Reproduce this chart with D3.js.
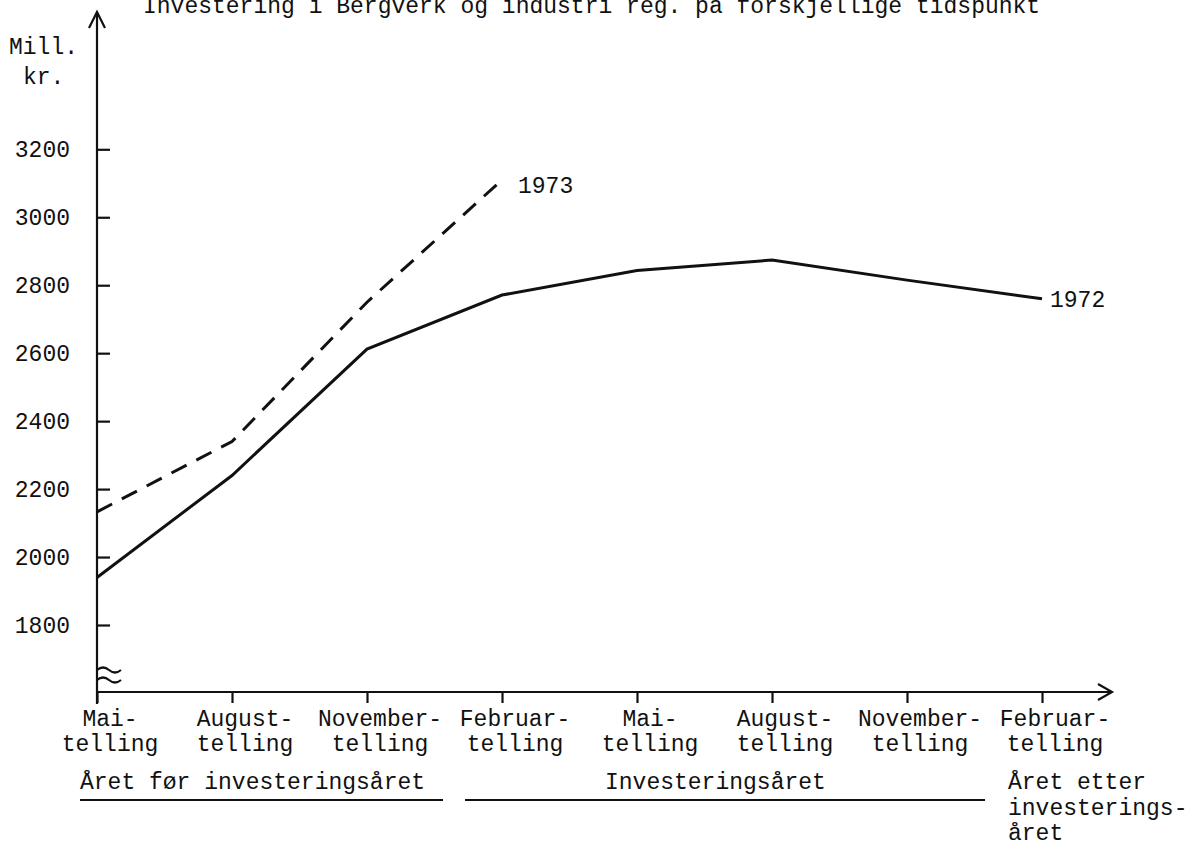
<!DOCTYPE html>
<html>
<head>
<meta charset="utf-8">
<script src="https://cdn.jsdelivr.net/npm/d3@7"></script>
<style>
  body { margin: 0; background: #fff; }
  text { font-family: "Liberation Mono", "Courier New", monospace; font-size: 23px; fill: #111; }
</style>
</head>
<body>
<div id="chart"></div>
<script>
// Data
const tellinger = ["Mai", "August", "November", "Februar", "Mai2", "August2", "November2", "Februar2"];
const line1 = ["Mai-", "August-", "November-", "Februar-", "Mai-", "August-", "November-", "Februar-"];
const line2 = ["telling", "telling", "telling", "telling", "telling", "telling", "telling", "telling"];
const values1972 = [1940, 2240, 2612, 2771, 2843, 2874, 2815, 2760];
const values1973 = [2133, 2340, 2750, 3110];
const yTicks = [1800, 2000, 2200, 2400, 2600, 2800, 3000, 3200];

const width = 1197;
const height = 866;

const svg = d3.select("#chart")
    .append("svg")
    .attr("width", width)
    .attr("height", height);

// scales
const x = d3.scalePoint()
    .domain(tellinger)
    .range([97, 1042]);

const y = d3.scaleLinear()
    .domain([1800, 3200])
    .range([625, 149.3]);

const axisY = 692; // x-axis sits below the broken part of the y scale
const x0 = x(tellinger[0]);

// title (cut at the top of the page)
svg.append("text")
    .attr("x", 143)
    .attr("y", 13)
    .text("Investering i Bergverk og industri reg. på forskjellige tidspunkt");

// unit label
svg.append("text").attr("x", 9).attr("y", 54).text("Mill.");
svg.append("text").attr("x", 23).attr("y", 84).text("kr.");

const axisG = svg.append("g")
    .attr("stroke", "#111")
    .attr("stroke-width", 2.2)
    .attr("fill", "none");

// y axis line with arrow
axisG.append("line")
    .attr("x1", x0).attr("y1", 12)
    .attr("x2", x0).attr("y2", 704);
axisG.append("path")
    .attr("d", `M${x0 - 8},28 L${x0},12 L${x0 + 8},28`);

// break marks
[670, 680].forEach(function (by) {
    axisG.append("path")
        .attr("d", `M${x0},${by} q6,-5 12,0 t12,0`);
});

// x axis line with arrow
axisG.append("line")
    .attr("x1", x0).attr("y1", axisY)
    .attr("x2", 1112).attr("y2", axisY);
axisG.append("path")
    .attr("d", `M1098,${axisY - 8} L1112,${axisY} L1098,${axisY + 8}`);

// y ticks (inside, to the right of the axis)
const yAxis = d3.axisRight(y)
    .tickValues(yTicks)
    .tickSize(13)
    .tickFormat("");
const yg = svg.append("g")
    .attr("transform", `translate(${x0},0)`)
    .call(yAxis);
yg.select(".domain").remove();
yg.selectAll(".tick line").attr("stroke", "#111").attr("stroke-width", 2.2);

svg.selectAll(".ylab")
    .data(yTicks)
    .enter()
    .append("text")
    .attr("class", "ylab")
    .attr("x", 70)
    .attr("y", d => y(d) + 8)
    .attr("text-anchor", "end")
    .text(d => d);

// x ticks
const xAxis = d3.axisBottom(x)
    .tickSize(11)
    .tickFormat("");
const xg = svg.append("g")
    .attr("transform", `translate(0,${axisY})`)
    .call(xAxis);
xg.select(".domain").remove();
xg.selectAll(".tick line").attr("stroke", "#111").attr("stroke-width", 2.2);

// x labels, two lines each
svg.selectAll(".xl1")
    .data(tellinger)
    .enter()
    .append("text")
    .attr("x", d => x(d) + 13)
    .attr("y", 726)
    .attr("text-anchor", "middle")
    .text((d, i) => line1[i]);

svg.selectAll(".xl2")
    .data(tellinger)
    .enter()
    .append("text")
    .attr("x", d => x(d) + 13)
    .attr("y", 751)
    .attr("text-anchor", "middle")
    .text((d, i) => line2[i]);

// period labels + underlines
svg.append("text").attr("x", 80).attr("y", 789).text("Året før investeringsåret");
svg.append("text").attr("x", 605).attr("y", 789).text("Investeringsåret");
svg.append("text").attr("x", 1008).attr("y", 789).text("Året etter");
svg.append("text").attr("x", 1008).attr("y", 815).text("investerings-");
svg.append("text").attr("x", 1008).attr("y", 840).text("året");

axisG.append("line").attr("x1", 80).attr("y1", 800).attr("x2", 443).attr("y2", 800);
axisG.append("line").attr("x1", 465).attr("y1", 800).attr("x2", 985).attr("y2", 800);

// lines
const line = d3.line()
    .x((d, i) => x(tellinger[i]))
    .y(d => y(d));

svg.append("path")
    .datum(values1972)
    .attr("d", line)
    .attr("fill", "none")
    .attr("stroke", "#111")
    .attr("stroke-width", 3);

svg.append("path")
    .datum(values1973)
    .attr("d", line)
    .attr("fill", "none")
    .attr("stroke", "#111")
    .attr("stroke-width", 3)
    .attr("stroke-dasharray", "17,11");

// series labels
svg.append("text")
    .attr("x", 518)
    .attr("y", 193)
    .text("1973");
svg.append("text")
    .attr("x", x(tellinger[7]) + 8)
    .attr("y", y(values1972[7]) + 8)
    .text("1972");
</script>
</body>
</html>
